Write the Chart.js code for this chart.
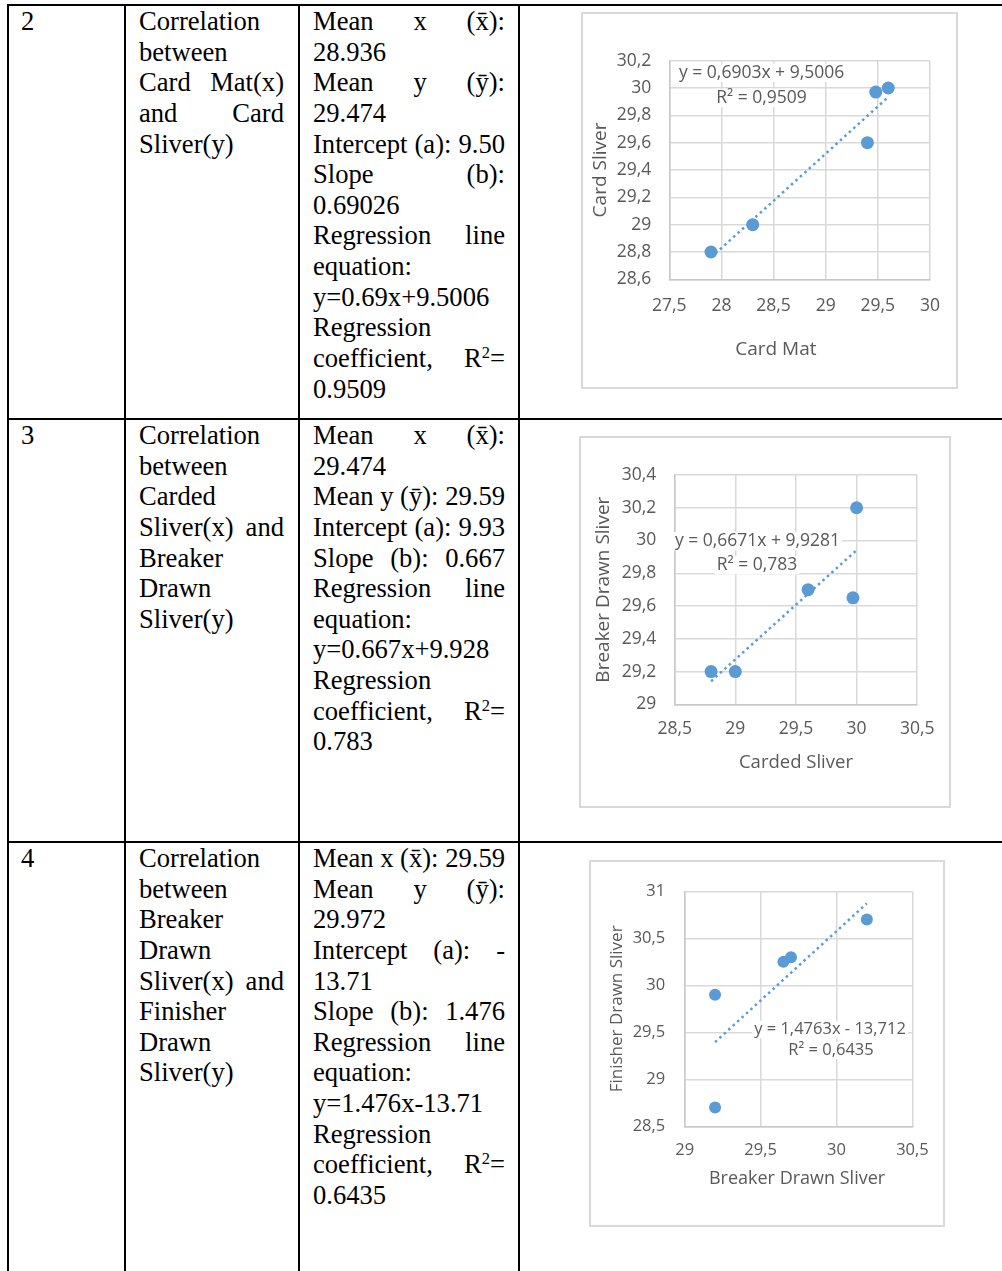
<!DOCTYPE html>
<html>
<head>
<meta charset="utf-8">
<script src="https://cdn.jsdelivr.net/npm/chart.js@4.4.1/dist/chart.umd.min.js"></script>
<style>
html,body{margin:0;padding:0;background:#fff;}
body{width:1002px;height:1271px;position:relative;overflow:hidden;font-family:"Liberation Serif","Times New Roman",serif;font-size:26.6px;color:#000;}
.ln{position:absolute;background:#000;}
.cell{position:absolute;line-height:30.65px;white-space:nowrap;}
.cell > div{height:30.65px;}
.j{display:flex;justify-content:space-between;}
.box{position:absolute;border:2px solid #d9d9d9;box-sizing:border-box;background:#fff;}
.box canvas{position:absolute;left:0;top:0;}
sup{font-size:0.62em;line-height:0;vertical-align:0.55em;}
</style>
</head>
<body>
<div class="box" style="left:581px;top:12px;width:377px;height:377px;"><canvas id="c1" width="373" height="373"></canvas></div>
<div class="box" style="left:579px;top:436px;width:372px;height:372px;"><canvas id="c2" width="368" height="368"></canvas></div>
<div class="box" style="left:589px;top:860px;width:356px;height:367px;"><canvas id="c3" width="352" height="363"></canvas></div>
<script>
// ---------- data ----------
// Chart 1: Card Mat (x) vs Card Sliver (y)
const cardMat      = [27.9, 28.3, 29.4, 29.48, 29.6];
const cardSliver   = [28.8, 29.0, 29.6, 29.97, 30.0];
const trend1X      = [27.9, 29.6];
const trend1Y      = [28.760, 29.934];
const xTicks1      = [27.5, 28, 28.5, 29, 29.5, 30];
const yTicks1      = [28.6, 28.8, 29, 29.2, 29.4, 29.6, 29.8, 30, 30.2];
const eq1          = ["y = 0,6903x + 9,5006", "R² = 0,9509"];

// Chart 2: Carded Sliver (x) vs Breaker Drawn Sliver (y)
const cardedSliver  = [28.8, 29.0, 29.6, 29.97, 30.0];
const breakerSliver = [29.2, 29.2, 29.7, 29.65, 30.2];
const trend2X       = [28.8, 30.0];
const trend2Y       = [29.141, 29.941];
const xTicks2       = [28.5, 29, 29.5, 30, 30.5];
const yTicks2       = [29, 29.2, 29.4, 29.6, 29.8, 30, 30.2, 30.4];
const eq2           = ["y = 0,6671x + 9,9281", "R² = 0,783"];

// Chart 3: Breaker Drawn Sliver (x) vs Finisher Drawn Sliver (y)
const breakerSliverX = [29.2, 29.2, 29.65, 29.7, 30.2];
const finisherSliver = [28.7, 29.9, 30.25, 30.3, 30.7];
const trend3X        = [29.2, 30.2];
const trend3Y        = [29.396, 30.872];
const xTicks3        = [29, 29.5, 30, 30.5];
const yTicks3        = [28.5, 29, 29.5, 30, 30.5, 31];
const eq3            = ["y = 1,4763x - 13,712", "R² = 0,6435"];

// ---------- table ----------
function line(x1,y1,w,h){const d=document.createElement('div');d.className='ln';d.style.cssText+=`left:${x1}px;top:${y1}px;width:${w}px;height:${h}px;`;document.body.appendChild(d);}
line(7,4,995,2); line(7,418,995,2); line(7,841,995,2);
line(7,4,2,1267); line(124,4,2,1267); line(298,4,2,1267); line(518,4,2,1267);

function cell(x,y,w,lines){
  const d=document.createElement('div');d.className='cell';
  d.style.left=x+'px';d.style.top=y+'px';d.style.width=w+'px';
  lines.forEach(l=>{
    const r=document.createElement('div');
    if(l.startsWith('|')){r.className='j';l.slice(1).split(' ').forEach(t=>{const s=document.createElement('span');s.innerHTML=t;r.appendChild(s);});}
    else r.innerHTML=l;
    d.appendChild(r);
  });
  document.body.appendChild(d);
}
const XB='x&#772;', YB='&#563;';
const rowTops=[6,420,843];
cell(21,rowTops[0],90,['2']);
cell(139,rowTops[0],145,['Correlation','between','|Card Mat(x)','|and Card','Sliver(y)']);
cell(313,rowTops[0],192,[`|Mean x (${XB}):`,'28.936',`|Mean y (${YB}):`,'29.474','|Intercept (a): 9.50','|Slope (b):','0.69026','|Regression line','equation:','y=0.69x+9.5006','Regression','|coefficient, R<sup>2</sup>=','0.9509']);
cell(21,rowTops[1],90,['3']);
cell(139,rowTops[1],145,['Correlation','between','Carded','|Sliver(x) and','Breaker','Drawn','Sliver(y)']);
cell(313,rowTops[1],192,[`|Mean x (${XB}):`,'29.474',`|Mean y (${YB}): 29.59`,'|Intercept (a): 9.93','|Slope (b): 0.667','|Regression line','equation:','y=0.667x+9.928','Regression','|coefficient, R<sup>2</sup>=','0.783']);
cell(21,rowTops[2],90,['4']);
cell(139,rowTops[2],145,['Correlation','between','Breaker','Drawn','|Sliver(x) and','Finisher','Drawn','Sliver(y)']);
cell(313,rowTops[2],192,[`|Mean x (${XB}): 29.59`,`|Mean y (${YB}):`,'29.972','|Intercept (a): -','13.71','|Slope (b): 1.476','|Regression line','equation:','y=1.476x-13.71','Regression','|coefficient, R<sup>2</sup>=','0.6435']);

// ---------- charts ----------
const BLUE='#5B9BD5', GRAY='#595959', GRID='#D9D9D9', AXISC='#C8C8C8';
const FONT="'Open Sans', sans-serif";
Chart.defaults.font.family=FONT;
const fmt=v=>String(Math.round(v*10)/10).replace('.',',');

const overlay={
  id:'overlay',
  afterDraw(chart,args,o){
    const {ctx,chartArea:a}=chart;
    ctx.save();
    ctx.fillStyle=GRAY;ctx.textAlign='center';ctx.textBaseline='alphabetic';
    ctx.font=`${o.xTitleSize}px ${FONT}`;
    ctx.fillText(o.xTitle,(a.left+a.right)/2+o.xTitleDx,a.bottom+o.xTitleBase);
    ctx.font=`${o.eqSize}px ${FONT}`;
    o.eq.forEach((t,i)=>{
      const w=ctx.measureText(t).width, cx=a.left+o.eqPos[i][0], by=a.top+o.eqPos[i][1];
      ctx.fillStyle='#fff';
      ctx.fillRect(cx-w/2-2,by-o.eqSize*0.8,w+4,o.eqSize*1.05);
      ctx.fillStyle=GRAY;
      ctx.fillText(t,cx,by);
    });
    ctx.restore();
  }
};

function makeChart(id,c){
  new Chart(document.getElementById(id),{
    type:'scatter',
    data:{datasets:[
      {label:'points',data:c.xs.map((x,i)=>({x,y:c.ys[i]})),backgroundColor:BLUE,borderColor:BLUE,borderWidth:0,pointRadius:c.r,pointHoverRadius:c.r,order:1},
      {label:'trend',type:'line',data:c.tx.map((x,i)=>({x,y:c.ty[i]})),borderColor:BLUE,borderWidth:2.5,borderDash:[2.5,3.5],pointRadius:0,fill:false,tension:0,order:2}
    ]},
    options:{
      responsive:false,animation:false,events:[],
      layout:{padding:{top:c.padTop,right:c.padRight,left:0,bottom:0}},
      plugins:{legend:{display:false},tooltip:{enabled:false},
        overlay:{xTitle:c.xTitle,xTitleSize:c.xTitleSize,xTitleDx:c.xTitleDx,xTitleBase:c.xTitleBase,eq:c.eq,eqSize:c.eqSize,eqPos:c.eqPos}},
      scales:{
        x:{type:'linear',position:'bottom',min:c.xTicks[0],max:c.xTicks[c.xTicks.length-1],
          afterBuildTicks:s=>{s.ticks=c.xTicks.map(v=>({value:v}));},
          ticks:{font:{family:FONT,size:c.tick},color:GRAY,padding:c.xPad,maxRotation:0,minRotation:0,autoSkip:false,callback:v=>fmt(v)},
          grid:{color:GRID,lineWidth:1.5,drawTicks:false},border:{color:AXISC,width:1.5},
          afterFit:s=>{s.height=c.xH;}},
        y:{type:'linear',position:'left',min:c.yTicks[0],max:c.yTicks[c.yTicks.length-1],
          afterBuildTicks:s=>{s.ticks=c.yTicks.map(v=>({value:v}));},
          ticks:{font:{family:FONT,size:c.tick},color:GRAY,padding:c.yPad,autoSkip:false,callback:v=>fmt(v)},
          grid:{color:GRID,lineWidth:1.5,drawTicks:false},border:{color:AXISC,width:1.5},
          title:{display:true,text:c.yTitle,color:GRAY,font:{family:FONT,size:c.yTitleSize},padding:{top:c.yTitlePad,bottom:0}},
          afterFit:s=>{s.width=c.yW;}}
      }
    },
    plugins:[overlay]
  });
}

makeChart('c1',{xs:cardMat,ys:cardSliver,tx:trend1X,ty:trend1Y,xTicks:xTicks1,yTicks:yTicks1,r:6.5,
  padTop:46.7,padRight:22.7,xH:107.7,yW:86.3,tick:17.5,xPad:16,yPad:18,
  yTitle:'Card Sliver',yTitleSize:19,yTitlePad:6,
  xTitle:'Card Mat',xTitleSize:19,xTitleDx:-23.8,xTitleBase:75.7,
  eq:eq1,eqSize:17.5,eqPos:[[92.3,17],[92.2,42]]});
makeChart('c2',{xs:cardedSliver,ys:breakerSliver,tx:trend2X,ty:trend2Y,xTicks:xTicks2,yTicks:yTicks2,r:6.5,
  padTop:37,padRight:28.7,xH:101.7,yW:93.7,tick:17.5,xPad:14.5,yPad:18.5,
  yTitle:'Breaker Drawn Sliver',yTitleSize:19,yTitlePad:11.5,
  xTitle:'Carded Sliver',xTitleSize:18.5,xTitleDx:0,xTitleBase:63.7,
  eq:eq2,eqSize:17.5,eqPos:[[82.8,71],[82.3,95]]});
makeChart('c3',{xs:breakerSliverX,ys:finisherSliver,tx:trend3X,ty:trend3Y,xTicks:xTicks3,yTicks:yTicks3,r:6,
  padTop:29.3,padRight:26.7,xH:98.7,yW:93.7,tick:16.5,xPad:14.3,yPad:19.5,
  yTitle:'Finisher Drawn Sliver',yTitleSize:17,yTitlePad:16,
  xTitle:'Breaker Drawn Sliver',xTitleSize:18,xTitleDx:-1.5,xTitleBase:57.7,
  eq:eq3,eqSize:16.5,eqPos:[[145.3,142.7],[146.3,163.4]]});
</script>
</body>
</html>
